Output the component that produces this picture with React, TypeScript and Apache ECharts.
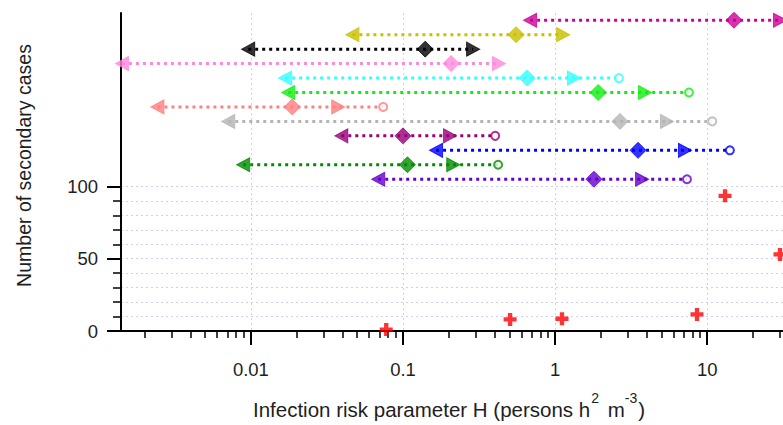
import React, { useEffect, useRef } from 'react';
import * as echarts from 'echarts';

// Rows of interval estimates (y = row position on the "number of cases" axis)
const rowY = [215, 205, 195, 185, 175, 165, 155, 145, 135, 125, 115, 105];
const lowArrow = [0.685, 0.0465, 0.0096, 0.00142, 0.0168, 0.0176, 0.00243, 0.0071, 0.0393, 0.165, 0.0089, 0.0687];
const central = [15.0, 0.554, 0.14, 0.207, 0.655, 1.92, 0.0187, 2.67, 0.1, 3.51, 0.107, 1.8];
const highArrow = [30.1, 1.13, 0.289, 0.428, 1.33, 3.9, 0.0375, 5.44, 0.204, 7.14, 0.214, 3.73];
const openCircle: (number | null)[] = [null, null, null, null, 2.63, 7.59, 0.0741, 10.8, 0.404, 14.1, 0.422, 7.36];

// Red crosses (observed outbreaks)
const crossX = [0.0776, 0.506, 1.11, 8.57, 13.1, 30.1];
const crossY = [1, 8, 8.5, 11.5, 93.5, 53];

const xTicks = [0.01, 0.1, 1, 10];

const rowColors = ['#cc0099', '#c8c000', '#000000', '#ff88dd', '#33ffff', '#11ee11', '#ff8080', '#b4b4b4', '#990077', '#0000ff', '#008c00', '#6600cc'];

const FONT = '"Liberation Sans", Arial, sans-serif';
const TXT = '#1e1e1e';
const GRIDC = '#cfcff6';

const LEFT_ARROW = 'path://M0,7L13,0L13,14Z';
const RIGHT_ARROW = 'path://M13,7L0,0L0,14Z';
const CROSS = 'path://M4,0L8,0L8,4L12,4L12,8L8,8L8,12L4,12L4,8L0,8L0,4L4,4Z';

export default function App() {
  const ref = useRef<HTMLDivElement>(null);
  useEffect(() => {
    document.body.style.margin = '0';
    const chart = echarts.init(ref.current!, null, { renderer: 'svg' });

    const lineSeries = rowY.map((y, i) => ({
      type: 'line',
      xAxisIndex: 0,
      yAxisIndex: 0,
      symbol: 'none',
      z: 2,
      clip: false,
      silent: true,
      lineStyle: { color: rowColors[i], width: 3, type: [3, 4], cap: 'butt' },
      data: [
        [lowArrow[i], y],
        [openCircle[i] != null ? openCircle[i] : highArrow[i], y],
      ],
    }));

    const mk = (vals: (number | null)[]) =>
      rowY
        .map((y, i) => (vals[i] == null ? null : { value: [vals[i], y], itemStyle: { color: rowColors[i], borderColor: rowColors[i] } }))
        .filter((d) => d != null);

    const option: any = {
      animation: false,
      backgroundColor: '#ffffff',
      textStyle: { fontFamily: FONT },
      grid: [
        { left: 121, right: 0, top: 13, bottom: 94, containLabel: false },
        { left: 121, right: 0, top: 186.45, bottom: 94, containLabel: false },
      ],
      xAxis: [
        {
          type: 'log',
          logBase: 10,
          gridIndex: 0,
          min: 0.0014,
          max: 31.5,
          axisLine: { show: true, onZero: false, lineStyle: { color: '#000', width: 2 } },
          axisTick: { show: true, length: 14, lineStyle: { color: '#000', width: 2 }, customValues: xTicks },
          minorTick: { show: true, splitNumber: 9, length: 7, lineStyle: { color: '#000', width: 1.5 } },
          axisLabel: {
            customValues: xTicks,
            margin: 28.5,
            fontSize: 18.5,
            color: TXT,
            fontFamily: FONT,
            formatter: (v: number) => String(v),
          },
          splitLine: { show: true, lineStyle: { color: GRIDC, type: [2, 3], width: 1 } },
          name: '{a|Infection risk parameter H (persons h}{s|2}{a| m}{t|-3}{a|)}',
          nameLocation: 'middle',
          nameGap: 60,
          nameTextStyle: {
            padding: [0, 6, 0, 0],
            rich: {
              a: { fontSize: 20.5, lineHeight: 36, color: TXT, fontFamily: FONT },
              s: { fontSize: 14, lineHeight: 14, verticalAlign: 'top', color: TXT, fontFamily: FONT, padding: [0, 3, 0, 1] },
              t: { fontSize: 14, lineHeight: 14, verticalAlign: 'top', color: TXT, fontFamily: FONT, padding: [0, 1, 0, 0] },
            },
          },
        },
        { type: 'value', gridIndex: 1, show: false, min: 0, max: 1 },
      ],
      yAxis: [
        {
          type: 'value',
          gridIndex: 0,
          min: 0,
          max: 220,
          axisLine: { show: true, lineStyle: { color: '#000', width: 2 } },
          axisTick: { show: false },
          axisLabel: { show: false },
          splitLine: { show: false },
          name: 'Number of secondary cases',
          nameLocation: 'middle',
          nameGap: 87,
          nameTextStyle: { fontSize: 19.5, color: TXT, fontFamily: FONT, padding: [0, 0, 0, 13] },
        },
        {
          type: 'value',
          gridIndex: 1,
          position: 'left',
          offset: 0,
          min: 0,
          max: 100,
          interval: 10,
          axisLine: { show: false },
          axisTick: { show: true, length: 8, lineStyle: { color: '#000', width: 1.5 } },
          axisLabel: { show: false },
          splitLine: { show: true, lineStyle: { color: GRIDC, type: [2, 3], width: 1 } },
        },
        {
          type: 'value',
          gridIndex: 1,
          position: 'left',
          offset: 0,
          min: 0,
          max: 100,
          interval: 50,
          axisLine: { show: false },
          axisTick: { show: true, length: 14, lineStyle: { color: '#000', width: 2 } },
          axisLabel: { show: true, fontSize: 18.5, margin: 23, color: TXT, fontFamily: FONT },
          splitLine: { show: false },
        },
      ],
      series: [
        ...lineSeries,
        {
          type: 'scatter', xAxisIndex: 0, yAxisIndex: 0, z: 3, clip: false,
          symbol: LEFT_ARROW, symbolSize: [13, 14], data: mk(lowArrow),
        },
        {
          type: 'scatter', xAxisIndex: 0, yAxisIndex: 0, z: 3, clip: false,
          symbol: 'diamond', symbolSize: [16, 16], data: mk(central),
        },
        {
          type: 'scatter', xAxisIndex: 0, yAxisIndex: 0, z: 3, clip: false,
          symbol: RIGHT_ARROW, symbolSize: [13, 14], data: mk(highArrow),
        },
        {
          type: 'scatter', xAxisIndex: 0, yAxisIndex: 0, z: 3, clip: false,
          symbol: 'emptyCircle', symbolSize: 8,
          data: rowY
            .map((y, i) => (openCircle[i] == null ? null : { value: [openCircle[i], y], itemStyle: { color: rowColors[i], borderColor: rowColors[i], borderWidth: 3 } }))
            .filter((d) => d != null),
        },
        {
          type: 'scatter', xAxisIndex: 0, yAxisIndex: 0, z: 4, clip: false,
          symbol: CROSS, symbolSize: 13,
          itemStyle: { color: '#ff0000' },
          data: crossX.map((x, i) => [x, crossY[i]]),
        },
      ],
    };
    chart.setOption(option);
    return () => chart.dispose();
  }, []);
  return <div ref={ref} style={{ width: 783, height: 425 }} />;
}
